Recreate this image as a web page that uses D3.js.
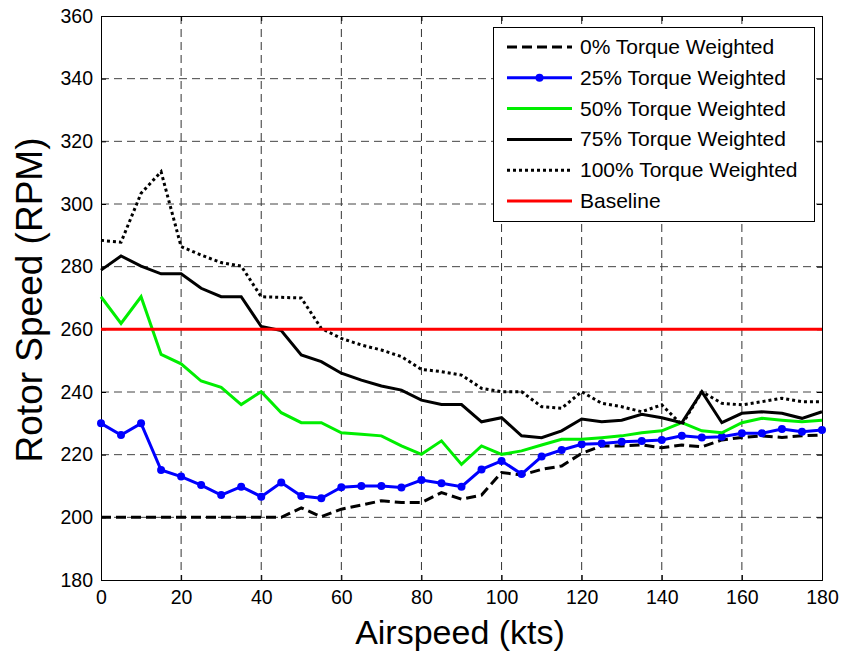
<!DOCTYPE html>
<html>
<head>
<meta charset="utf-8">
<script src="https://cdn.jsdelivr.net/npm/d3@7"></script>
<style>
  body { margin: 0; background: #fff; }
  text { font-family: "Liberation Sans", Arial, sans-serif; }
</style>
</head>
<body>
<div id="chart"></div>
<script>
// airspeed in kts, every 5 kts
const airspeed = d3.range(0, 181, 5);

const rpm0 = [200,200,200,200,200,200,200,200,200,200,203,200.2,202.6,203.9,205.3,204.7,204.7,207.9,205.8,207.1,214.3,213.5,215.3,216.4,220.4,222.8,222.8,223.1,222.2,223.1,222.5,224.7,225.5,226,225.5,226,226.3];
const rpm25 = [230,226.3,230,215.1,213,210.3,207.1,209.8,206.6,211.1,206.8,206.1,209.6,210,210,209.5,211.9,210.9,209.8,215.3,218,213.8,219.4,221.5,223.3,223.6,224.1,224.4,224.7,226,225.5,225.7,226.8,226.8,228.2,227.3,227.9];
const rpm50 = [270.4,261.9,270.4,252,249,243.5,241.5,236,240.1,233.4,230.2,230.2,227,226.5,226,222.8,220.1,224.4,216.9,222.8,220.1,221.2,223.1,224.9,224.9,225.4,226,227,227.6,230.2,227.6,227,230.2,231.6,231,230.5,231];
const rpm75 = [278.9,283.4,280.2,277.7,277.7,273.1,270.4,270.4,260.9,259.6,251.8,249.7,246,243.8,241.9,240.6,237.4,236,236,230.5,231.8,226,225.4,227.6,231.4,230.5,231,232.9,231.8,230.2,240.1,230.2,233.2,233.7,233.2,231.6,233.7];
const rpm100 = [288.4,287.8,303.4,310.3,286.4,283.7,281.3,280.2,270.4,270.2,270,260.3,257.1,255,253.4,251.3,247.2,246.5,245.4,241.2,240.1,240.1,235.3,234.8,240.1,236.4,235.3,233.7,235.9,229.5,240.1,236.4,235.9,236.9,238,236.9,236.9];
const baseline = 260;

const xTicks = d3.range(0, 181, 20);
const yTicks = d3.range(180, 361, 20);

const seriesNames = ["0% Torque Weighted","25% Torque Weighted","50% Torque Weighted","75% Torque Weighted","100% Torque Weighted","Baseline"];

const w = 845, h = 658;
const pLeft = 101, pRight = 822, pTop = 16, pBottom = 580;

const svg = d3.select("#chart").append("svg")
  .attr("width", w).attr("height", h);

const x = d3.scaleLinear().domain([0, 180]).range([pLeft, pRight]);
const y = d3.scaleLinear().domain([180, 360]).range([pBottom, pTop]);

// grid
svg.append("g").selectAll("line").data(xTicks.slice(1, -1)).enter().append("line")
  .attr("x1", d => x(d)).attr("x2", d => x(d)).attr("y1", pTop).attr("y2", pBottom)
  .attr("stroke", "#333").attr("stroke-width", 1).attr("stroke-dasharray", "8,5");
svg.append("g").selectAll("line").data(yTicks.slice(1, -1)).enter().append("line")
  .attr("y1", d => y(d)).attr("y2", d => y(d)).attr("x1", pLeft).attr("x2", pRight)
  .attr("stroke", "#444").attr("stroke-width", 1).attr("stroke-dasharray", "8,5");

// axes
const xAxis = d3.axisBottom(x).tickValues(xTicks).tickSize(-5).tickPadding(10);
const yAxis = d3.axisLeft(y).tickValues(yTicks).tickSize(-5).tickPadding(8);
const xTop = d3.axisTop(x).tickValues(xTicks).tickSize(-5).tickFormat("");
const yRight = d3.axisRight(y).tickValues(yTicks).tickSize(-5).tickFormat("");

function styleAxis(g) {
  g.select(".domain").attr("stroke", "#000").attr("stroke-width", 1);
  g.selectAll(".tick line").attr("stroke", "#000");
  g.selectAll(".tick text").attr("fill", "#000").style("font-size", "19.5px")
    .style("font-family", "'Liberation Sans', Arial, sans-serif");
}

svg.append("g").attr("transform", "translate(0," + pBottom + ")").call(xAxis).call(styleAxis);
svg.append("g").attr("transform", "translate(" + pLeft + ",0)").call(yAxis).call(styleAxis);
svg.append("g").attr("transform", "translate(0," + pTop + ")").call(xTop).call(styleAxis);
svg.append("g").attr("transform", "translate(" + pRight + ",0)").call(yRight).call(styleAxis);

// lines
const line = d3.line().x((d, i) => x(airspeed[i])).y(d => y(d));

const series = [
  {name: seriesNames[0], data: rpm0, color: "#000", dash: "10,5", width: 3},
  {name: seriesNames[1], data: rpm25, color: "#0000ff", dash: null, width: 3, marker: true},
  {name: seriesNames[2], data: rpm50, color: "#00ee00", dash: null, width: 3},
  {name: seriesNames[3], data: rpm75, color: "#000", dash: null, width: 3},
  {name: seriesNames[4], data: rpm100, color: "#000", dash: "3,3", width: 3},
  {name: seriesNames[5], data: airspeed.map(() => baseline), color: "#ff0000", dash: null, width: 3}
];

const plot = svg.append("g");
series.forEach(s => {
  plot.append("path").datum(s.data)
    .attr("d", line)
    .attr("fill", "none")
    .attr("stroke", s.color)
    .attr("stroke-width", s.width)
    .attr("stroke-dasharray", s.dash);
  if (s.marker) {
    plot.selectAll(null).data(s.data).enter().append("circle")
      .attr("cx", (d, i) => x(airspeed[i])).attr("cy", d => y(d))
      .attr("r", 4).attr("fill", s.color);
  }
});

// legend
const lg = svg.append("g");
lg.append("rect").attr("x", 493.5).attr("y", 27.5).attr("width", 321).attr("height", 194)
  .attr("fill", "#fff").attr("stroke", "#000").attr("stroke-width", 1);
series.forEach((s, i) => {
  const yy = 47 + i * 30.8;
  lg.append("line").attr("x1", 507).attr("x2", 572).attr("y1", yy).attr("y2", yy)
    .attr("stroke", s.color).attr("stroke-width", s.width).attr("stroke-dasharray", s.dash);
  if (s.marker) lg.append("circle").attr("cx", 539.5).attr("cy", yy).attr("r", 4).attr("fill", s.color);
  lg.append("text").attr("x", 580).attr("y", yy + 7).style("font-size", "21px").text(s.name);
});

// axis titles
svg.append("text").attr("x", 460).attr("y", 644).attr("text-anchor", "middle")
  .style("font-size", "34px")
  .text("Airspeed (kts)");
svg.append("text").attr("transform", "translate(42,300) rotate(-90)").attr("text-anchor", "middle")
  .style("font-size", "37px")
  .text("Rotor Speed (RPM)");
</script>
</body>
</html>
